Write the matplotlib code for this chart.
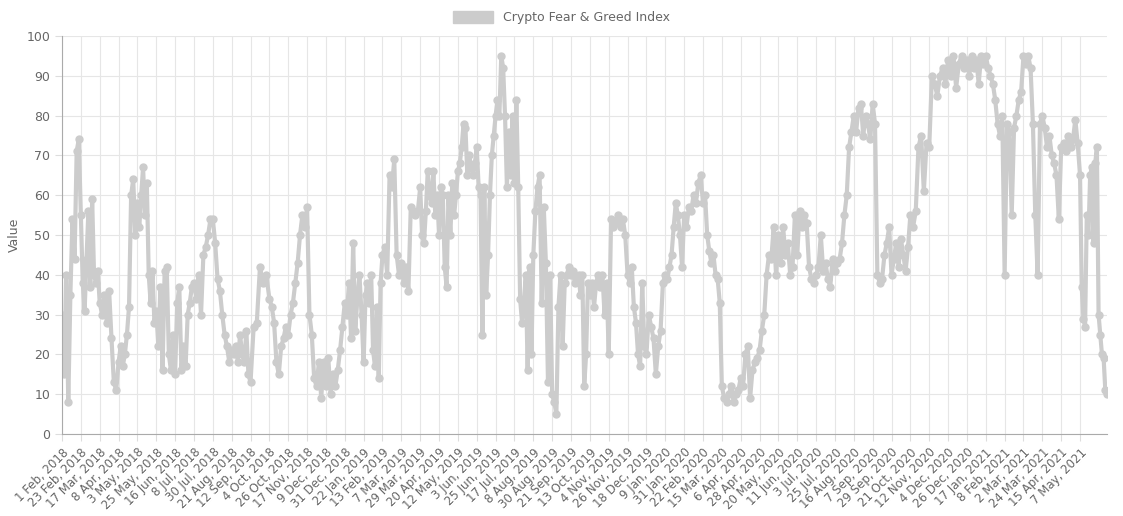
import numpy as np
import matplotlib.pyplot as plt

tick_labels = ["1 Feb, 2018", "23 Feb, 2018", "17 Mar, 2018", "8 Apr, 2018", "3 May, 2018",
               "25 May, 2018", "16 Jun, 2018", "8 Jul, 2018", "30 Jul, 2018", "21 Aug, 2018",
               "12 Sep, 2018", "4 Oct, 2018", "26 Oct, 2018", "17 Nov, 2018", "9 Dec, 2018",
               "31 Dec, 2018", "22 Jan, 2019", "13 Feb, 2019", "7 Mar, 2019", "29 Mar, 2019",
               "20 Apr, 2019", "12 May, 2019", "3 Jun, 2019", "25 Jun, 2019", "17 Jul, 2019",
               "8 Aug, 2019", "30 Aug, 2019", "21 Sep, 2019", "13 Oct, 2019", "4 Nov, 2019",
               "26 Nov, 2019", "18 Dec, 2019", "9 Jan, 2020", "31 Jan, 2020", "22 Feb, 2020",
               "15 Mar, 2020", "6 Apr, 2020", "28 Apr, 2020", "20 May, 2020", "11 Jun, 2020",
               "3 Jul, 2020", "25 Jul, 2020", "16 Aug, 2020", "7 Sep, 2020", "29 Sep, 2020",
               "21 Oct, 2020", "12 Nov, 2020", "4 Dec, 2020", "26 Dec, 2020", "17 Jan, 2021",
               "8 Feb, 2021", "2 Mar, 2021", "24 Mar, 2021", "15 Apr, 2021", "7 May, 2021"]

# index values, one list per interval between two tick labels
segments = [
    [30, 15, 40, 8, 35, 54, 44, 71, 74],
    [55, 38, 31, 44, 56, 37, 59, 40, 38, 41],
    [33, 30, 35, 28, 36, 24, 13, 11],
    [18, 22, 17, 20, 25, 32, 60, 64, 50],
    [58, 52, 60, 67, 55, 63, 40, 33, 41, 28],
    [31, 22, 37, 16, 41, 42, 20, 16, 25],
    [15, 33, 37, 16, 22, 17, 30, 33, 37],
    [38, 34, 40, 30, 45, 47, 50, 54],
    [54, 48, 39, 36, 30, 25, 22, 18],
    [21, 20, 22, 18, 25, 20, 18, 26, 15],
    [13, 27, 28, 42, 38, 40],
    [34, 32, 28, 18, 15, 22, 24, 27],
    [25, 30, 33, 38, 43, 50, 55, 52],
    [57, 30, 25, 14, 12, 18, 9, 18],
    [12, 19, 10, 15, 12, 16, 21, 27],
    [33, 30, 38, 24, 48, 26, 34, 40, 30],
    [18, 35, 38, 33, 40, 21, 17, 32, 14, 38],
    [45, 47, 40, 65, 62, 69, 45, 40],
    [43, 38, 42, 36, 57, 56, 55, 56],
    [62, 50, 48, 56, 66, 60, 58, 66, 55, 60],
    [50, 62, 60, 42, 37, 60, 50, 63, 55, 60],
    [66, 68, 72, 78, 77, 65, 70, 67, 65, 68],
    [72, 62, 60, 25, 62, 35, 45, 60, 70, 75],
    [80, 84, 80, 95, 92, 80, 62, 76, 65, 80],
    [63, 84, 62, 34, 28, 33, 40, 16, 42, 20],
    [45, 56, 62, 65, 33, 57, 43, 13, 40],
    [10, 8, 5, 32, 40, 22, 38, 40, 42],
    [40, 41, 38, 39, 40, 35, 40, 12, 20, 38],
    [35, 38, 32, 38, 40, 37, 40, 30, 38],
    [20, 54, 52, 53, 55, 52, 54, 50],
    [40, 38, 42, 32, 28, 20, 17, 38, 22],
    [20, 30, 27, 24, 15, 22, 26, 38],
    [40, 39, 42, 45, 52, 58, 55, 50, 42],
    [55, 52, 57, 56, 60, 58, 63, 65],
    [58, 60, 50, 46, 43, 45, 40, 39, 33],
    [12, 9, 8, 10, 12, 8, 10, 11],
    [14, 12, 20, 22, 9, 16, 18, 19],
    [21, 26, 30, 40, 45, 44, 52, 40],
    [50, 43, 52, 45, 48, 40, 42, 55],
    [45, 56, 52, 55, 53, 42, 39, 38],
    [40, 42, 50, 41, 43, 39, 37, 44],
    [41, 43, 44, 48, 55, 60, 72, 76],
    [80, 76, 82, 83, 75, 80, 78, 74],
    [83, 78, 40, 38, 39, 45, 48, 52],
    [40, 44, 48, 42, 49, 45, 41, 47],
    [55, 52, 56, 72, 75, 61, 73],
    [72, 90, 88, 85, 90, 92, 88],
    [94, 90, 95, 87, 93, 95, 92],
    [94, 90, 95, 92, 94, 88, 95, 93],
    [95, 92, 90, 88, 84, 78, 75, 80],
    [40, 78, 76, 55, 77, 80, 84, 86],
    [95, 93, 95, 92, 78, 55, 40, 78],
    [80, 77, 72, 75, 70, 68, 65, 54],
    [72, 73, 71, 75, 72, 74, 79, 73],
    [65, 37, 29, 27, 55, 50, 65, 67, 48, 68, 72, 30, 25, 20, 19, 11, 10],
]
last_span = 1.43  # the final segment runs past the last label

xs, ys = [], []
for k, seg in enumerate(segments):
    span = last_span if k == len(segments) - 1 else 1.0
    n = len(seg)
    step = span / (n - 1) if k == len(segments) - 1 else span / n
    for j, v in enumerate(seg):
        xs.append(k + j * step)
        ys.append(v)

fig = plt.figure(figsize=(11.23, 5.16), dpi=100)
ax = fig.add_axes([62 / 1123, 1 - 434 / 516, (1107 - 62) / 1123, (434 - 36) / 516])

ax.plot(xs, ys, color="#cccccc", lw=3, marker="o", ms=5, label="Crypto Fear & Greed Index")

ax.set_xlim(0, xs[-1])
ax.set_ylim(0, 100)
ax.set_yticks(range(0, 101, 10))
ax.set_xticks(range(len(tick_labels)))
ax.set_xticklabels(tick_labels, rotation=45, ha="right", rotation_mode="anchor", fontsize=8.5, color="#666666")
ax.tick_params(axis="y", labelsize=9, colors="#666666")
ax.tick_params(axis="both", color="#dddddd", length=5)
ax.grid(True, color="#e6e6e6", lw=0.8)
for s in ["top", "right"]:
    ax.spines[s].set_visible(False)
for s in ["left", "bottom"]:
    ax.spines[s].set_color("#aaaaaa")
ax.set_ylabel("Value", color="#666666", fontsize=9)

leg = fig.legend(handles=[plt.Rectangle((0, 0), 1, 1, fc="#cccccc", ec="#cccccc")],
                 labels=["Crypto Fear & Greed Index"], loc="upper center",
                 bbox_to_anchor=(0.5, 1.0), frameon=False, fontsize=9, handlelength=3.2,
                 handleheight=1.0, labelcolor="#666666")

fig.savefig("out.png", dpi=100)
